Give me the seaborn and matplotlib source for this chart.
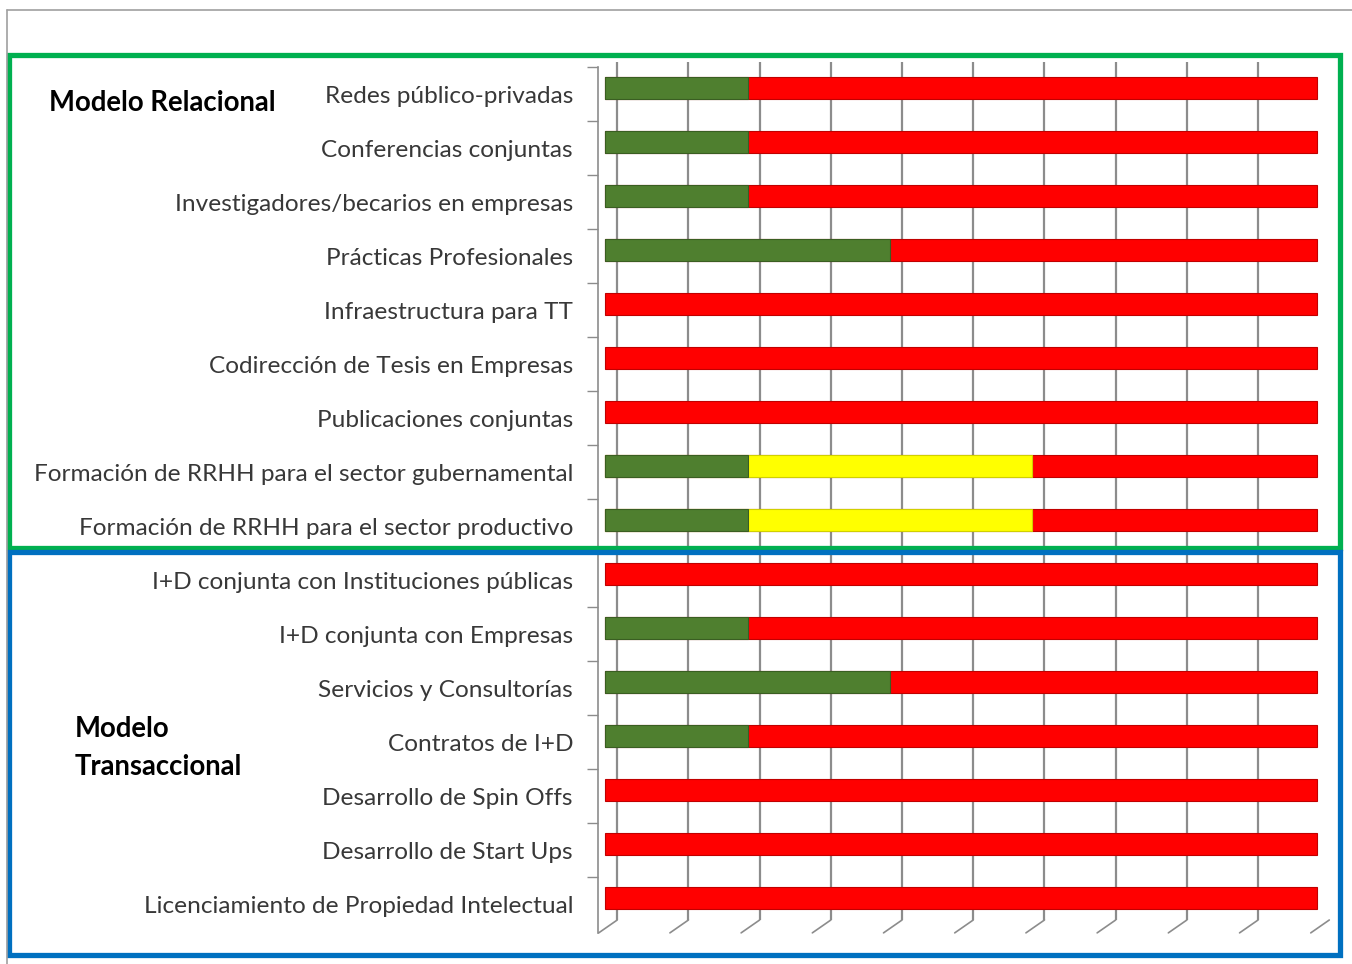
import numpy as np
import pandas as pd
import matplotlib
matplotlib.use('Agg')
import matplotlib.pyplot as plt
import matplotlib.transforms as mtransforms
from matplotlib.patches import Rectangle
from matplotlib.lines import Line2D
import seaborn as sns

categories = [
    'Redes público-privadas',
    'Conferencias conjuntas',
    'Investigadores/becarios en empresas',
    'Prácticas Profesionales',
    'Infraestructura para TT',
    'Codirección de Tesis en Empresas',
    'Publicaciones conjuntas',
    'Formación de RRHH para el sector gubernamental',
    'Formación de RRHH para el sector productivo',
    'I+D conjunta con Instituciones públicas',
    'I+D conjunta con Empresas',
    'Servicios y Consultorías',
    'Contratos de I+D',
    'Desarrollo de Spin Offs',
    'Desarrollo de Start Ups',
    'Licenciamiento de Propiedad Intelectual',
]
green = [2, 2, 2, 4, 0, 0, 0, 2, 2, 0, 2, 4, 2, 0, 0, 0]
yellow = [0, 0, 0, 0, 0, 0, 0, 4, 4, 0, 0, 0, 0, 0, 0, 0]
red = [8, 8, 8, 6, 10, 10, 10, 4, 4, 10, 8, 6, 8, 10, 10, 10]

df = pd.DataFrame({'cat': categories, 'green': green, 'yellow': yellow, 'red': red})
# cumulative ends; empty segments left out so no stray edges are drawn
df['c_green'] = df['green'].where(df['green'] > 0)
df['c_yellow'] = (df['green'] + df['yellow']).where(df['yellow'] > 0)
df['c_red'] = df['green'] + df['yellow'] + df['red']

sns.set_theme(style='white')
plt.rcParams['font.family'] = ['Lato', 'DejaVu Sans']

W, H = 1352, 964
fig = plt.figure(figsize=(W / 100, H / 100), dpi=100)
ax_l, ax_r, ax_t, ax_b = 598, 1325, 62, 920
ax = fig.add_axes([ax_l / W, 1 - ax_b / H, (ax_r - ax_l) / W, (ax_b - ax_t) / H])

for col, colr, edge in [('c_red', '#ff0000', '#c00000'),
                        ('c_yellow', '#ffff00', '#d0d000'),
                        ('c_green', '#4f7f2f', '#3a5e22')]:
    sns.barplot(data=df, x=col, y='cat', order=categories, orient='h',
                color=colr, width=0.4, edgecolor=edge, linewidth=0.8,
                saturation=1, ax=ax, zorder=3)

ax.set_xlabel('')
ax.set_ylabel('')

# back-wall gridlines (slightly offset like the 3D original)
ax.set_xticks(np.arange(11) + 0.17)
ax.set_xticklabels([])
ax.tick_params(axis='x', length=0)
ax.grid(axis='x', color='#8c8c8c', linewidth=1.6, zorder=0)
ax.grid(axis='y', visible=False)

ax.set_yticks(range(len(categories)))
ax.set_yticklabels(categories, fontsize=17.6, color='#383838')
ax.set_yticks(np.arange(-1, len(categories)) + 0.61, minor=True)
ax.tick_params(axis='y', which='major', length=0, pad=18)
ax.tick_params(axis='y', which='minor', length=8, width=1, color='#8c8c8c', left=True)
for lab in ax.get_yticklabels():
    lab.set_transform(lab.get_transform() + mtransforms.ScaledTranslation(0, -0.07, fig.dpi_scale_trans))

for s in ['top', 'right', 'bottom']:
    ax.spines[s].set_visible(False)
ax.spines['left'].set_color('#8c8c8c')
ax.spines['left'].set_linewidth(1.2)
ax.spines['left'].set_bounds(15.65, -0.39)

# floor diagonals below each gridline
trans = mtransforms.blended_transform_factory(ax.transData, ax.transAxes)
for g in np.arange(11) + 0.17:
    ax.plot([g - 0.26, g], [-0.015, 0.0], transform=trans, color='#8c8c8c',
            linewidth=1.2, clip_on=False, scalex=False, scaley=False)

ax.set_xlim(-0.1, 10.11)
ax.set_ylim(15.41, -0.48)

# outer gray frame
fig.add_artist(Line2D([7 / W, 1], [1 - 10 / H, 1 - 10 / H], color='#a0a0a0', linewidth=1.2))
fig.add_artist(Line2D([7 / W, 7 / W], [0, 1 - 10 / H], color='#a0a0a0', linewidth=1.2))

# group boxes
fig.add_artist(Rectangle((9 / W, 1 - 548 / H), 1331 / W, 493 / H, fill=False,
                         edgecolor='#00b050', linewidth=3.8))
fig.add_artist(Rectangle((9 / W, 1 - 955 / H), 1331 / W, 403 / H, fill=False,
                         edgecolor='#0070c0', linewidth=3.8))

fig.text(49 / W, 1 - 103 / H, 'Modelo Relacional', fontsize=19.8, fontweight='bold',
         color='black', va='center', ha='left')
fig.text(75 / W, 1 - 729 / H, 'Modelo', fontsize=19.8, fontweight='bold',
         color='black', va='center', ha='left')
fig.text(75 / W, 1 - 767 / H, 'Transaccional', fontsize=19.8, fontweight='bold',
         color='black', va='center', ha='left')

fig.savefig('out.png', dpi=100)
